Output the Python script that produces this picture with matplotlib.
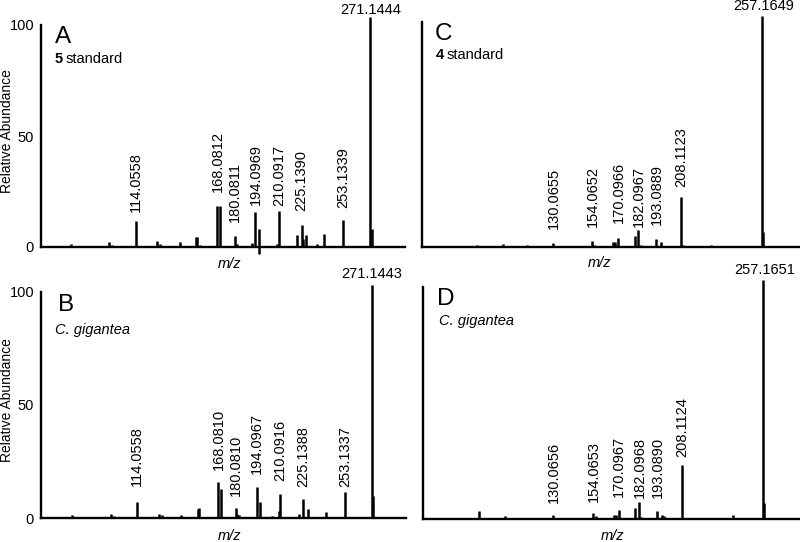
import numpy as np
import matplotlib
matplotlib.use("Agg")
import matplotlib.pyplot as plt

plt.rcParams['font.family'] = ['Liberation Sans', 'DejaVu Sans']

# panel A: compound 5 standard
mzA = [70.3, 96.0, 98.0, 114.0558, 127.9, 129.9, 143.5, 154.0, 155.1, 157.0,
       168.0812, 170.3, 180.0811, 182.0, 191.6, 194.0969, 196.5, 196.5, 208.4,
       210.0917, 221.8, 225.1390, 226.1, 228.0, 235.2, 240.1, 253.1339,
       271.1444, 272.3]
intA = [1.5, 2.4, 1.0, 11.7, 2.6, 1.5, 2.4, 4.3, 4.6, 1.0,
        18.5, 18.5, 4.9, 1.2, 2.0, 15.6, 8.3, -3.0, 1.2,
        16.0, 5.2, 9.9, 3.5, 5.4, 1.5, 5.9, 12.1,
        103.5, 8.0]
labA = ['114.0558', '168.0812', '180.0811', '194.0969', '210.0917', '225.1390', '253.1339']
labA_x = [114.0558, 169.2, 180.0811, 194.0969, 210.0917, 225.1390, 253.1339]
labA_y = [15.6, 24.9, 11.4, 18.9, 18.6, 16.4, 17.4]

# panel B: C. gigantea (5)
mzB = [70.3, 96.5, 98.5, 114.0558, 128.5, 130.5, 143.7, 154.7, 155.6,
       168.0810, 170.5, 180.0810, 181.0, 182.0, 194.0967, 196.7, 204.4, 209.1,
       210.0916, 222.5, 225.1388, 228.7, 240.8, 253.1337, 271.1443, 272.1]
intB = [1.3, 2.0, 1.0, 7.2, 1.9, 1.3, 1.5, 4.0, 4.5,
        15.8, 12.8, 4.4, 2.0, 1.5, 14.0, 7.3, 1.0, 3.3,
        10.8, 2.0, 8.7, 4.3, 3.0, 11.8, 103.0, 10.0]
labB = ['114.0558', '168.0810', '180.0810', '194.0967', '210.0916', '225.1388', '253.1337']
labB_x = [114.0558, 169.0, 180.0810, 194.0967, 210.0916, 225.1388, 253.1337]
labB_y = [14.3, 21.3, 9.8, 19.5, 16.6, 13.9, 13.9]

# panel C: compound 4 standard
mzC = [84.4, 100.2, 114.4, 130.0655, 154.0652, 155.4, 167.0, 168.0, 170.0966,
       180.2, 182.0967, 184.0, 193.0889, 196.2, 208.1123, 209.2, 226.4, 239.0,
       257.1649, 258.1]
intC = [0.7, 1.2, 0.8, 1.8, 2.8, 1.0, 2.4, 2.4, 4.1,
        5.0, 7.5, 0.8, 3.6, 2.2, 22.0, 1.0, 1.0, 0.3,
        102.8, 6.8]
labC = ['130.0655', '154.0652', '170.0966', '182.0967', '193.0889', '208.1123']
labC_x = [130.6, 154.6, 170.0966, 182.8, 193.4, 208.4]
labC_y = [7.9, 9.0, 10.8, 9.0, 9.6, 26.5]

# panel D: C. gigantea (4)
mzD = [84.8, 100.7, 114.9, 130.0656, 154.0653, 155.8, 166.9, 167.9, 170.0967,
       179.8, 182.0968, 183.5, 193.0890, 196.2, 197.3, 208.1124, 225.8, 239.0,
       257.1651, 258.0]
intD = [3.7, 1.3, 0.6, 1.9, 2.6, 1.3, 2.0, 2.0, 4.0,
        4.7, 7.6, 0.8, 3.6, 2.0, 1.5, 23.2, 0.6, 2.0,
        103.0, 7.2]
labD = ['130.0656', '154.0653', '170.0967', '182.0968', '193.0890', '208.1124']
labD_x = [130.6, 154.6, 170.0967, 182.6, 193.4, 208.4]
labD_y = [6.9, 7.6, 9.5, 9.0, 9.3, 26.9]

W, H = 800, 542
fig = plt.figure(figsize=(8, 5.42), dpi=100)


def px_axes(l, t, r, b):
    return fig.add_axes([l / W, 1 - b / H, (r - l) / W, (b - t) / H])


def draw(ax, mz, inten, labs, lx, ly, base_lab, base_mz, base_y, xlim, yticks):
    ax.vlines(mz, 0, inten, color='black', lw=1.8, clip_on=False)
    ax.set_xlim(*xlim)
    ax.set_ylim(0, 100)
    for s in ['top', 'right']:
        ax.spines[s].set_visible(False)
    for s in ['left', 'bottom']:
        ax.spines[s].set_linewidth(1.7)
    ax.set_xticks([])
    if yticks:
        ax.set_yticks([0, 50, 100])
        ax.tick_params(axis='y', length=0, pad=5, labelsize=10.5)
    else:
        ax.set_yticks([])
    for t, x, y in zip(labs, lx, ly):
        ax.text(x, y, t, rotation=90, ha='center', va='bottom', fontsize=10.5, clip_on=False)
    ax.text(base_mz, base_y, base_lab, ha='center', va='baseline', fontsize=10.5, clip_on=False)


axA = px_axes(41, 25, 405, 247)
draw(axA, mzA, intA, labA, labA_x, labA_y, '271.1444', 271.1444, 105, (50.2, 294.5), True)
axB = px_axes(41, 291.7, 406, 518.3)
draw(axB, mzB, intB, labB, labB_x, labB_y, '271.1443', 271.1443, 106, (49.8, 294.1), True)
axC = px_axes(421.7, 22, 800, 247)
draw(axC, mzC, intC, labC, labC_x, labC_y, '257.1649', 258.5, 105.3, (50.6, 280.4), False)
axD = px_axes(422.7, 286.7, 800, 519.3)
draw(axD, mzD, intD, labD, labD_x, labD_y, '257.1651', 258.5, 105.5, (50.8, 279.8), False)


def ftext(x, y, s, **kw):
    fig.text(x / W, 1 - y / H, s, **kw)


# panel letters and sample names
ftext(55, 43, 'A', fontsize=17.5, va='baseline')
ftext(55, 63, '5', fontsize=10.5, fontweight='bold', va='baseline')
ftext(66, 63, 'standard', fontsize=10.5, va='baseline')
ftext(58, 311, 'B', fontsize=17.5, va='baseline')
ftext(55, 334, 'C. gigantea', fontsize=10.5, style='italic', va='baseline')
ftext(435, 40, 'C', fontsize=17.5, va='baseline')
ftext(436, 59, '4', fontsize=10.5, fontweight='bold', va='baseline')
ftext(447, 59, 'standard', fontsize=10.5, va='baseline')
ftext(437, 305, 'D', fontsize=17.5, va='baseline')
ftext(439, 325, 'C. gigantea', fontsize=10.5, style='italic', va='baseline')

# axis labels
ftext(7, 131, 'Relative Abundance', fontsize=10, rotation=90, ha='center', va='center')
ftext(7, 400, 'Relative Abundance', fontsize=10, rotation=90, ha='center', va='center')
ftext(230, 264, 'm/z', fontsize=10.5, style='italic', ha='center', va='center')
ftext(600, 263, 'm/z', fontsize=10.5, style='italic', ha='center', va='center')
ftext(230, 536, 'm/z', fontsize=10.5, style='italic', ha='center', va='center')
ftext(613, 536, 'm/z', fontsize=10.5, style='italic', ha='center', va='center')

fig.savefig('out.png', dpi=100)
